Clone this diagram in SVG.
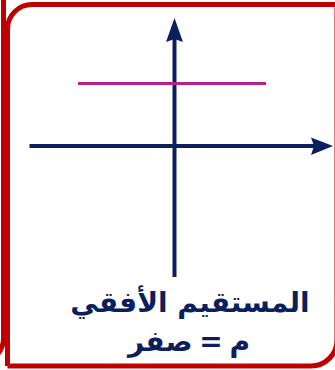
<svg xmlns="http://www.w3.org/2000/svg" width="335" height="370" viewBox="0 0 335 370">
<defs>
<style>
.frame{fill:none;stroke:#C00000;stroke-width:5}
.axis{stroke:#0B1F5E;stroke-width:4;fill:none}
.head{fill:#0B1F5E}
.lbl{font-family:"DejaVu Sans",sans-serif;font-weight:bold;font-size:28px;fill:#0B1F5E;text-anchor:middle}
</style>
</defs>
<rect width="335" height="370" fill="#FFFFFF"/>
<g id="frame">
<path class="frame" d="M3.5,-10 V338 A25,25 0 0 1 -21.5,363"/>
<path class="frame" d="M7.5,366 V29 A24.5,24.5 0 0 1 32,4.5 H345 M337,4.5 V340 A26,26 0 0 1 311,366 H7.5"/>
</g>
<g id="connectors">
<line class="axis" x1="174.5" y1="277" x2="174.5" y2="38"/>
<polygon class="head" points="174.5,18 183,42 174.5,39 166,42"/>
<line class="axis" x1="29.5" y1="146" x2="314" y2="146"/>
<polygon class="head" points="333,146 311,137.5 314,146 311,155"/>
<line x1="78" y1="83.5" x2="266" y2="83.5" stroke="#B5218F" stroke-width="3"/>
</g>
<g id="label">
<text class="lbl" x="190" y="312" direction="rtl">المستقيم الأفقي</text>
<text class="lbl" x="189" y="351" direction="rtl" word-spacing="-3">م = صفر</text>
</g>
</svg>
